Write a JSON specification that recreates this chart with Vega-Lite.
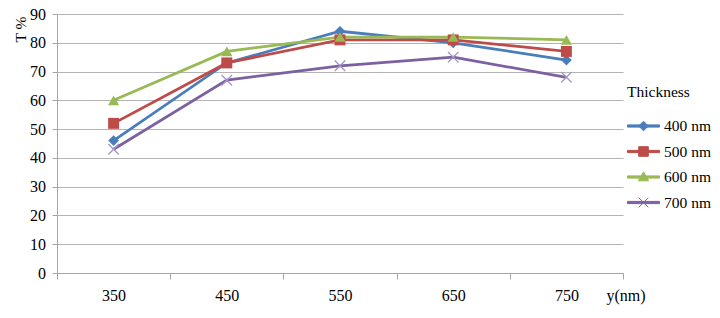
{
  "$schema": "https://vega.github.io/schema/vega-lite/v6.json",
  "width": 566,
  "height": 259,
  "autosize": {"type": "none"},
  "padding": {"left": 57, "top": 14, "right": 97, "bottom": 45},
  "background": "white",
  "config": {
    "font": "Liberation Serif",
    "view": {"stroke": null},
    "axis": {
      "labelFont": "Liberation Serif",
      "titleFont": "Liberation Serif",
      "labelFontSize": 16,
      "labelColor": "#000000",
      "titleFontSize": 15.5,
      "titleFontWeight": "normal",
      "titleColor": "#000000",
      "domainColor": "#a6a6a6",
      "tickColor": "#a6a6a6",
      "gridColor": "#b4b4b4",
      "domainWidth": 1,
      "tickWidth": 1,
      "gridWidth": 1
    }
  },
  "data": {
    "values": [
      {"series": "400 nm", "wl": "350", "T": 46},
      {"series": "400 nm", "wl": "450", "T": 73},
      {"series": "400 nm", "wl": "550", "T": 84},
      {"series": "400 nm", "wl": "650", "T": 80},
      {"series": "400 nm", "wl": "750", "T": 74},
      {"series": "500 nm", "wl": "350", "T": 52},
      {"series": "500 nm", "wl": "450", "T": 73},
      {"series": "500 nm", "wl": "550", "T": 81},
      {"series": "500 nm", "wl": "650", "T": 81},
      {"series": "500 nm", "wl": "750", "T": 77},
      {"series": "600 nm", "wl": "350", "T": 60},
      {"series": "600 nm", "wl": "450", "T": 77},
      {"series": "600 nm", "wl": "550", "T": 82},
      {"series": "600 nm", "wl": "650", "T": 82},
      {"series": "600 nm", "wl": "750", "T": 81},
      {"series": "700 nm", "wl": "350", "T": 43},
      {"series": "700 nm", "wl": "450", "T": 67},
      {"series": "700 nm", "wl": "550", "T": 72},
      {"series": "700 nm", "wl": "650", "T": 75},
      {"series": "700 nm", "wl": "750", "T": 68}
    ]
  },
  "encoding": {
    "x": {
      "field": "wl",
      "type": "ordinal",
      "bandPosition": 0.5,
      "sort": ["350", "450", "550", "650", "750"],
      "scale": {"type": "band", "paddingInner": 0, "paddingOuter": 0},
      "axis": {
        "title": "y(nm)",
        "labelAngle": 0,
        "grid": false,
        "tickBand": "extent",
        "tickSize": 6,
        "labelPadding": 8,
        "titleX": 549,
        "titleY": 14,
        "titleAlign": "left",
        "titleAnchor": null,
        "titleBaseline": "top",
        "titleFontSize": 16
      }
    },
    "y": {
      "field": "T",
      "type": "quantitative",
      "scale": {"domain": [0, 90], "nice": false},
      "axis": {
        "title": "T %",
        "values": [0, 10, 20, 30, 40, 50, 60, 70, 80, 90],
        "tickSize": 5,
        "labelPadding": 6.5,
        "titleAngle": -90,
        "titleX": -37,
        "titleY": 2,
        "titleAlign": "right",
        "titleBaseline": "middle",
        "titleAnchor": null
      }
    }
  },
  "layer": [
    {
      "mark": {"type": "line", "strokeWidth": 2.75},
      "encoding": {
        "color": {
          "field": "series",
          "type": "nominal",
          "scale": {
            "domain": ["400 nm", "500 nm", "600 nm", "700 nm"],
            "range": ["#4A7EBB", "#BE4B48", "#98B954", "#7D60A0"]
          },
          "legend": {
            "title": "Thickness",
            "orient": "none",
            "legendX": 570,
            "legendY": 71,
            "padding": 0,
            "titleFont": "Liberation Serif",
            "titleFontSize": 15.5,
            "titleFontWeight": "normal",
            "titleColor": "#000000",
            "titlePadding": 9,
            "labelFont": "Liberation Serif",
            "labelFontSize": 15.5,
            "labelColor": "#000000",
            "labelOffset": 4,
            "symbolSize": 1024,
            "symbolStrokeWidth": 1,
            "rowPadding": 0.5,
            "encode": {
              "symbols": {
                "update": {
                  "shape": {"signal": "datum.value === '400 nm' ? 'M-1,-0.07H1V0.07H-1Z M0,-0.3L0.3,0L0,0.3L-0.3,0Z' : datum.value === '500 nm' ? 'M-1,-0.07H1V0.07H-1Z M-0.3,-0.3H0.3V0.3H-0.3Z' : datum.value === '600 nm' ? 'M-1,-0.07H1V0.07H-1Z M0,-0.32L0.32,0.24H-0.32Z' : 'M-1,-0.07H1V0.07H-1Z M-0.3,-0.3L0.3,0.3M-0.3,0.3L0.3,-0.3'"},
                  "fill": {"signal": "scale('color', datum.value)"},
                  "stroke": {"signal": "scale('color', datum.value)"},
                  "opacity": {"value": 1},
                  "fillOpacity": {"value": 1},
                  "strokeOpacity": {"value": 1}
                }
              }
            }
          }
        }
      }
    },
    {
      "transform": [{"filter": "datum.series !== '700 nm'"}],
      "mark": {"type": "point", "filled": true, "opacity": 1},
      "encoding": {
        "color": {"field": "series", "type": "nominal", "legend": null},
        "shape": {
          "field": "series",
          "type": "nominal",
          "scale": {"domain": ["400 nm", "500 nm", "600 nm"], "range": ["diamond", "square", "triangle-up"]},
          "legend": null
        },
        "size": {
          "field": "series",
          "type": "nominal",
          "scale": {"domain": ["400 nm", "500 nm", "600 nm"], "range": [115, 125, 135]},
          "legend": null
        }
      }
    },
    {
      "transform": [{"filter": "datum.series === '700 nm'"}],
      "mark": {"type": "point", "shape": "M-1,-1L1,1M-1,1L1,-1", "filled": false, "stroke": "#A394C8", "strokeWidth": 1.3, "size": 110, "opacity": 1}
    }
  ]
}
